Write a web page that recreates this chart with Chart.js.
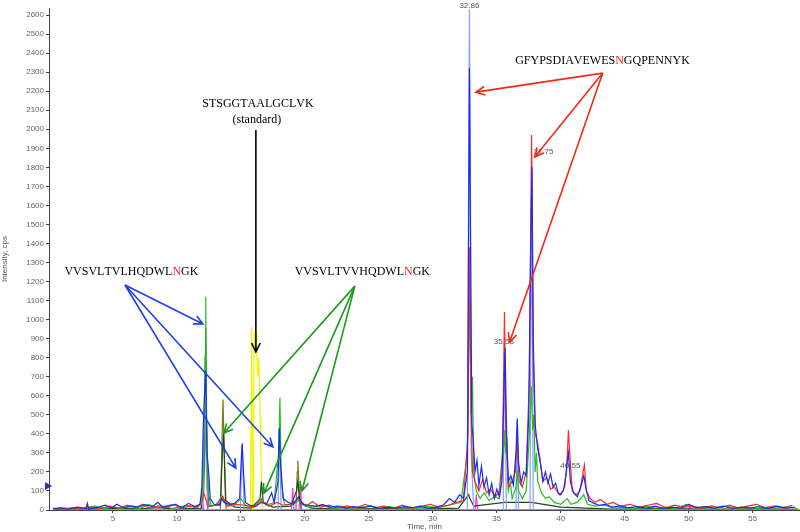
<!DOCTYPE html>
<html>
<head>
<meta charset="utf-8">
<script src="https://cdn.jsdelivr.net/npm/chart.js@4/dist/chart.umd.min.js"></script>
<style>
  body { margin: 0; background: #fff; }
  #wrap { width: 800px; height: 532px; }
</style>
</head>
<body>
<div id="wrap"><canvas id="myChart"></canvas></div>
<script>
// traces: [time (min), intensity (cps)]
const blueTrace = [[0.3,5],[0.9,12],[1.5,4],[2.2,15],[2.9,8],[3.0,35],[3.1,5],[3.8,14],[4.4,25],[4.9,10],[5.3,30],[5.8,12],[6.4,22],[7.0,15],[7.5,28],[8.1,18],[8.5,40],[8.9,14],[9.4,25],[9.9,30],[10.4,12],[10.9,35],[11.4,18],[11.8,30],[11.95,120],[12.05,420],[12.15,600],[12.25,730],[12.35,300],[12.5,180],[12.6,60],[12.9,30],[13.3,25],[13.5,60],[13.7,40],[14.1,30],[14.5,35],[14.9,60],[15.05,300],[15.1,350],[15.2,200],[15.35,40],[15.7,25],[16.2,20],[16.6,40],[17.0,30],[17.4,90],[17.6,40],[17.9,150],[18.0,430],[18.1,250],[18.3,60],[18.7,40],[19.1,30],[19.5,70],[19.8,30],[20.3,25],[20.8,20],[21.4,28],[22.0,15],[22.6,20],[23.2,10],[23.8,18],[24.5,12],[25.2,20],[25.8,8],[26.5,15],[27.1,10],[27.8,18],[28.4,12],[29.0,20],[29.6,10],[30.2,15],[30.8,25],[31.3,60],[31.7,40],[32.1,80],[32.4,60],[32.7,200],[32.8,1500],[32.86,2320],[32.95,1400],[33.05,450],[33.15,380],[33.3,200],[33.45,260],[33.6,130],[33.8,230],[34.0,120],[34.2,170],[34.4,80],[34.6,140],[34.8,60],[35.0,110],[35.2,70],[35.4,150],[35.55,600],[35.65,850],[35.75,450],[35.9,150],[36.1,180],[36.3,130],[36.5,300],[36.6,480],[36.7,250],[36.9,140],[37.1,200],[37.3,180],[37.5,500],[37.65,1400],[37.75,1800],[37.85,900],[38.0,450],[38.2,320],[38.4,250],[38.6,150],[38.8,200],[39.0,140],[39.2,190],[39.4,120],[39.6,140],[39.8,90],[40.0,80],[40.3,120],[40.5,250],[40.6,300],[40.75,150],[41.0,90],[41.3,70],[41.6,130],[41.8,180],[41.95,120],[42.2,50],[42.6,35],[43.0,25],[43.5,30],[44.0,15],[44.6,22],[45.3,12],[46.0,18],[46.7,10],[47.4,20],[48.0,8],[48.7,15],[49.4,10],[50.0,30],[50.6,12],[51.3,18],[52.0,10],[52.7,20],[53.4,8],[54.1,15],[54.8,10],[55.5,18],[56.2,8],[56.9,20],[57.6,10],[58.3,15]];

const lightBlueTrace = [[0.5,0],[12.0,0],[12.1,400],[12.2,760],[12.3,200],[12.45,0],[14.95,0],[15.1,340],[15.25,0],[17.9,0],[18.0,420],[18.15,0],[32.7,0],[32.8,1800],[32.86,2630],[32.93,1900],[33.0,300],[33.2,0],[35.5,0],[35.62,900],[35.75,0],[36.5,0],[36.6,470],[36.7,0],[37.6,0],[37.72,1870],[37.85,0],[58.7,0]];

const redTrace = [[0.3,10],[1.1,4],[1.8,12],[2.6,6],[3.3,15],[4.0,8],[4.7,20],[5.5,10],[6.1,25],[6.8,12],[7.3,30],[7.9,10],[8.6,22],[9.2,15],[9.8,28],[10.3,10],[11.0,20],[11.6,15],[12.0,50],[12.1,90],[12.25,60],[12.4,20],[13.0,25],[13.6,70],[13.9,20],[14.6,30],[15.3,25],[16.0,15],[16.6,50],[17.2,20],[17.8,40],[18.3,25],[18.9,30],[19.5,60],[20.1,20],[20.6,45],[21.2,15],[21.9,25],[22.5,12],[23.3,22],[24.0,10],[24.7,30],[25.5,12],[26.2,20],[26.9,8],[27.6,25],[28.3,10],[29.0,18],[29.8,30],[30.5,15],[31.2,25],[31.8,40],[32.4,50],[32.75,400],[32.86,1380],[32.97,600],[33.1,200],[33.3,150],[33.6,100],[33.9,160],[34.2,90],[34.5,110],[34.9,70],[35.2,100],[35.45,300],[35.6,1040],[35.72,400],[35.9,120],[36.2,150],[36.45,200],[36.6,380],[36.75,150],[37.0,120],[37.3,200],[37.55,700],[37.72,1970],[37.85,800],[38.0,400],[38.2,350],[38.35,280],[38.6,150],[38.9,170],[39.2,110],[39.5,120],[39.9,80],[40.2,100],[40.45,200],[40.6,420],[40.7,300],[40.9,100],[41.2,80],[41.5,100],[41.75,200],[41.85,236],[42.0,100],[42.3,60],[42.7,40],[43.1,55],[43.6,30],[44.1,40],[44.7,20],[45.4,30],[46.1,15],[46.8,25],[47.5,35],[48.2,12],[48.9,25],[49.6,15],[50.3,20],[51.0,10],[51.8,22],[52.5,12],[53.2,25],[53.9,10],[54.6,20],[55.3,30],[56.0,12],[56.7,22],[57.4,10],[58.1,25]];

const greenTrace = [[0.4,6],[1.3,10],[2.1,5],[2.8,12],[3.6,20],[4.3,8],[5.0,15],[5.7,10],[6.3,18],[7.1,8],[7.8,30],[8.4,12],[9.0,20],[9.6,8],[10.2,15],[10.8,25],[11.5,12],[11.9,30],[12.1,200],[12.2,800],[12.25,1120],[12.3,500],[12.45,80],[12.7,20],[13.2,30],[13.5,80],[13.8,30],[14.4,20],[15.0,60],[15.4,20],[16.1,25],[16.6,60],[17.0,25],[17.6,40],[17.95,300],[18.05,590],[18.15,150],[18.4,30],[19.0,25],[19.5,50],[20.0,20],[20.7,15],[21.3,25],[22.1,10],[22.8,18],[23.6,8],[24.4,15],[25.1,22],[25.9,10],[26.6,18],[27.3,8],[28.1,15],[28.8,10],[29.5,20],[30.3,12],[31.0,20],[31.6,30],[32.2,40],[32.7,300],[32.86,1280],[32.98,500],[33.1,700],[33.2,200],[33.4,100],[33.7,60],[34.0,90],[34.4,50],[34.8,70],[35.2,60],[35.5,250],[35.62,420],[35.7,300],[35.78,380],[35.9,100],[36.05,150],[36.2,60],[36.5,120],[36.6,210],[36.7,100],[37.0,60],[37.3,100],[37.55,400],[37.7,650],[37.8,420],[37.9,500],[38.0,200],[38.1,300],[38.2,150],[38.5,90],[38.8,60],[39.1,70],[39.5,40],[40.0,30],[40.5,60],[40.8,30],[41.3,40],[41.8,80],[42.1,30],[42.7,20],[43.4,25],[44.2,10],[45.0,15],[45.8,8],[46.6,20],[47.4,10],[48.2,15],[49.0,8],[49.8,30],[50.5,10],[51.3,15],[52.1,8],[52.9,20],[53.7,10],[54.5,12],[55.3,8],[56.1,15],[56.9,10],[57.7,18],[58.5,8]];

const darkTrace = [[0.5,3],[2.0,8],[3.5,5],[5.2,10],[6.9,6],[8.5,12],[10.0,5],[11.9,10],[12.15,300],[12.25,955],[12.35,250],[12.5,20],[13.4,30],[13.55,300],[13.65,400],[13.8,50],[14.5,15],[15.8,10],[16.5,60],[16.6,150],[16.75,40],[17.5,15],[18.9,20],[19.35,100],[19.45,150],[19.6,40],[20.5,10],[23.0,5],[26.0,8],[29.0,5],[32.0,10],[32.8,80],[32.9,60],[33.2,20],[35.6,40],[37.7,40],[40.0,15],[44.0,5],[48.0,8],[52.0,5],[56.0,6],[58.5,4]];

const oliveTrace = [[0.5,0],[11.9,0],[12.1,100],[12.25,500],[12.4,0],[13.4,0],[13.52,350],[13.6,580],[13.7,300],[13.85,0],[19.3,0],[19.4,200],[19.45,260],[19.55,120],[19.7,0],[58.7,0]];

const yellowTrace = [[0.5,0],[15.75,0],[15.85,960],[15.9,30],[15.95,0],[16.0,500],[16.05,940],[16.1,850],[16.2,930],[16.3,700],[16.4,800],[16.5,500],[16.55,300],[16.6,180],[16.7,0],[58.7,0]];

const magentaTrace = [[0.5,0],[4.5,10],[4.8,0],[9.0,0],[9.2,20],[9.4,0],[11.9,0],[12.0,60],[12.1,0],[18.95,0],[19.05,115],[19.15,0],[19.55,0],[19.65,140],[19.75,0],[33.3,0],[33.4,80],[33.5,0],[50.0,0],[50.1,25],[50.2,0],[58.7,0]];

const yTicks = [0, 100, 200, 300, 400, 500, 600, 700, 800, 900, 1000, 1100, 1200, 1300, 1400, 1500, 1600, 1700, 1800, 1900, 2000, 2100, 2200, 2300, 2400, 2500, 2600];
const xTicks = [5, 10, 15, 20, 25, 30, 35, 40, 45, 50, 55];

function trace(points, color) {
    return { data: points, borderColor: color, borderWidth: 1.2, pointRadius: 0, tension: 0, fill: false };
}

// labels, arrows (in data units)
const peakLabels = [
    { t: 32.86, i: 2650, text: '32.86' },
    { t: 38.65, i: 1880, text: '37.75' },
    { t: 35.55, i: 885, text: '35.58' },
    { t: 40.75, i: 230, text: '40.55' }
];
const peptides = [
    { t: 16.25, i: 2132, text: 'STSGGTAALGCLVK', red: -1 },
    { t: 16.25, i: 2048, text: '(standard)', red: -1 },
    { t: 6.4, i: 1250, text: 'VVSVLTVLHQDWLNGK', red: 13 },
    { t: 24.45, i: 1250, text: 'VVSVLTVVHQDWLNGK', red: 13 },
    { t: 43.2, i: 2358, text: 'GFYPSDIAVEWESNGQPENNYK', red: 13 }
];
const arrows = [
    { color: '#000', from: [16.17, 1996], to: [[16.17, 830]] },
    { color: '#1f3fe8', from: [5.94, 1182], to: [[12.03, 977], [14.6, 220], [17.5, 331]] },
    { color: '#1a9a1a', from: [23.9, 1176], to: [[13.67, 404], [16.8, 89], [19.77, 100]] },
    { color: '#f02a14', from: [43.28, 2295], to: [[33.36, 2195], [37.97, 1854], [36.0, 882]] }
];

const annotate = {
    id: 'annotate',
    beforeDatasetsDraw(chart) {
        const { ctx, scales: { x, y } } = chart;
        ctx.save();
        ctx.font = '8px "Liberation Sans"';
        ctx.fillStyle = '#555';
        ctx.textAlign = 'center';
        ctx.textBaseline = 'middle';
        peakLabels.forEach(p => ctx.fillText(p.text, x.getPixelForValue(p.t), y.getPixelForValue(p.i)));
        ctx.restore();
    },
    afterDatasetsDraw(chart) {
        const { ctx, chartArea, scales: { x, y } } = chart;
        ctx.save();
        // peptide names
        ctx.font = '12px "Liberation Serif"';
        ctx.textBaseline = 'middle';
        ctx.textAlign = 'left';
        peptides.forEach(p => {
            const w = ctx.measureText(p.text).width;
            let cx = x.getPixelForValue(p.t) - w / 2;
            const cy = y.getPixelForValue(p.i);
            for (let k = 0; k < p.text.length; k++) {
                ctx.fillStyle = k === p.red ? '#ff1a1a' : '#000';
                ctx.fillText(p.text[k], cx, cy);
                cx += ctx.measureText(p.text[k]).width;
            }
        });
        // arrows
        ctx.lineWidth = 1.6;
        arrows.forEach(a => {
            ctx.strokeStyle = a.color;
            const x0 = x.getPixelForValue(a.from[0]), y0 = y.getPixelForValue(a.from[1]);
            a.to.forEach(tp => {
                const x1 = x.getPixelForValue(tp[0]), y1 = y.getPixelForValue(tp[1]);
                const ang = Math.atan2(y1 - y0, x1 - x0);
                ctx.beginPath();
                ctx.moveTo(x0, y0);
                ctx.lineTo(x1, y1);
                ctx.moveTo(x1 - 10 * Math.cos(ang - 0.45), y1 - 10 * Math.sin(ang - 0.45));
                ctx.lineTo(x1, y1);
                ctx.lineTo(x1 - 10 * Math.cos(ang + 0.45), y1 - 10 * Math.sin(ang + 0.45));
                ctx.stroke();
            });
        });
        // threshold marker
        const ty = y.getPixelForValue(126);
        ctx.fillStyle = '#2233cc';
        ctx.beginPath();
        ctx.moveTo(chartArea.left - 4, ty - 4);
        ctx.lineTo(chartArea.left + 3, ty);
        ctx.lineTo(chartArea.left - 4, ty + 4);
        ctx.closePath();
        ctx.fill();
        ctx.restore();
    }
};

const config = {
    type: 'line',
    data: {
        datasets: [
            trace(blueTrace, '#1a2cf0'),
            trace(redTrace, '#ff2a2a'),
            trace(greenTrace, '#22c022'),
            trace(lightBlueTrace, '#8c9cff'),
            trace(darkTrace, '#1b4a1b'),
            trace(oliveTrace, '#7a7a10'),
            trace(magentaTrace, '#ff33ff'),
            trace(yellowTrace, '#f2f200')
        ]
    },
    options: {
        responsive: true,
        maintainAspectRatio: false,
        animation: false,
        layout: { padding: { top: 8, right: 0, left: 0, bottom: 0 } },
        plugins: { legend: { display: false }, tooltip: { enabled: false } },
        scales: {
            x: {
                type: 'linear',
                min: 0,
                max: 58.7,
                afterBuildTicks: s => { s.ticks = xTicks.map(v => ({ value: v })); },
                afterFit: s => { s.height = 22; },
                border: { color: '#444' },
                grid: { drawOnChartArea: false, tickLength: 3, color: '#444' },
                ticks: { font: { size: 8, family: 'Liberation Sans' }, color: '#666', maxRotation: 0, padding: 1, callback: v => String(v) },
                title: { display: true, text: 'Time, min', font: { size: 8, family: 'Liberation Sans' }, color: '#555', padding: 0 }
            },
            y: {
                min: 0,
                max: 2637,
                afterBuildTicks: s => { s.ticks = yTicks.map(v => ({ value: v })); },
                afterFit: s => { s.width = 49; },
                border: { color: '#444' },
                grid: { drawOnChartArea: false, tickLength: 3, color: '#444' },
                ticks: { autoSkip: false, font: { size: 8, family: 'Liberation Sans' }, color: '#666', padding: 2, callback: v => String(v) },
                title: { display: true, text: 'Intensity, cps', font: { size: 8, family: 'Liberation Sans' }, color: '#555', padding: 0 }
            }
        }
    },
    plugins: [annotate]
};

const myChart = new Chart(document.getElementById('myChart'), config);
</script>
</body>
</html>
